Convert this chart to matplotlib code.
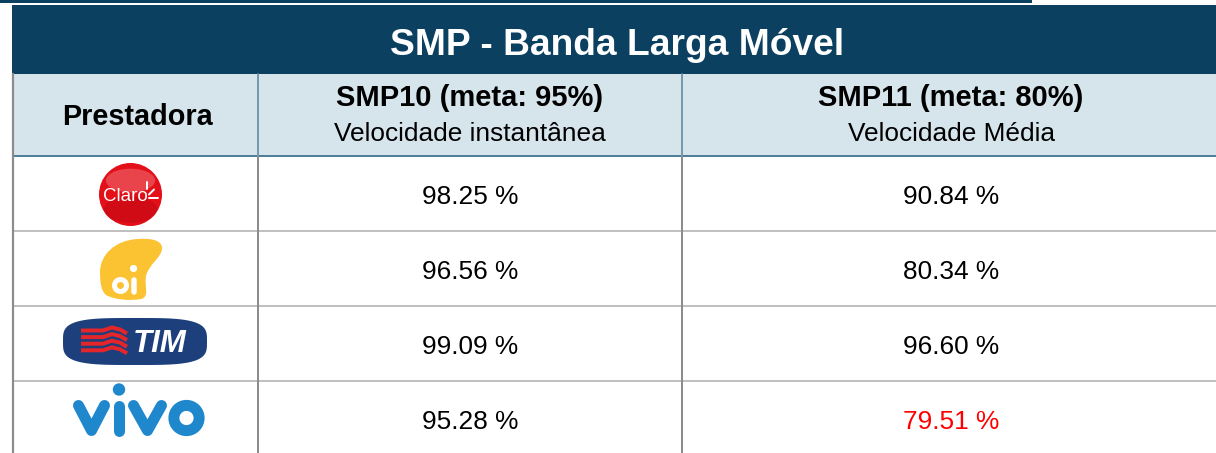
import matplotlib
matplotlib.use("Agg")
import matplotlib.pyplot as plt
from matplotlib.patches import Rectangle, Circle, Ellipse, PathPatch, Polygon
from matplotlib.path import Path
import numpy as np

# ---------------- data ----------------
title = "SMP - Banda Larga Móvel"
col_header = "Prestadora"
smp10_title = "SMP10 (meta: 95%)"
smp10_sub = "Velocidade instantânea"
smp11_title = "SMP11 (meta: 80%)"
smp11_sub = "Velocidade Média"
operators = ["Claro", "Oi", "TIM", "Vivo"]
smp10_values = [98.25, 96.56, 99.09, 95.28]
smp11_values = [90.84, 80.34, 96.60, 79.51]
smp10_goal = 95
smp11_goal = 80

# ---------------- style ----------------
W, H = 1216, 453
DARK = "#0b4060"
HEAD = "#d6e4ec"
HEADLINE = "#4f7f9a"
ROWLINE = "#c0c0c0"
VLINE = "#8c8c8c"
FONT = ["Liberation Sans", "DejaVu Sans"]

fig = plt.figure(figsize=(W / 100, H / 100), dpi=100)
ax = fig.add_axes([0, 0, 1, 1])
ax.set_xlim(0, W)
ax.set_ylim(H, 0)
ax.axis("off")

px = 0.72  # points per pixel
x_left, x_c1, x_c2, x_right = 12.5, 258, 682, W
y_title_top, y_title_bot = 5, 74
y_head_bot = 155.5
row_h = 75

# top thin line
ax.add_patch(Rectangle((0, 0), 1032, 2.6, color=DARK, lw=0))
# title band
ax.add_patch(Rectangle((x_left - 0.5, y_title_top), x_right - x_left + 1, y_title_bot - y_title_top,
                       color=DARK, lw=0))
ax.text(617, 55, title, ha="center", va="baseline", color="white",
        fontsize=26.7, fontweight="bold", family=FONT)

# header band
ax.add_patch(Rectangle((x_left, y_title_bot), x_right - x_left, y_head_bot - y_title_bot,
                       color=HEAD, lw=0))
ax.plot([x_left, x_right], [y_head_bot, y_head_bot], color=HEADLINE, lw=2.0 * px,
        solid_capstyle="butt")
for xv in (x_c1, x_c2):
    ax.plot([xv, xv], [y_title_bot, y_head_bot], color="#5f8aa2", lw=1.6 * px)

ax.text((x_left + x_c1) / 2 + 2, 125, col_header, ha="center", va="baseline",
        fontsize=20.8, fontweight="bold", family=FONT, color="black")
c2 = (x_c1 + x_c2) / 2
c3 = 951
ax.text(c2, 106, smp10_title, ha="center", va="baseline", fontsize=21,
        fontweight="bold", family=FONT, color="black")
ax.text(c2, 141, smp10_sub, ha="center", va="baseline", fontsize=18.9,
        family=FONT, color="black")
ax.text(c3, 106, smp11_title, ha="center", va="baseline", fontsize=21,
        fontweight="bold", family=FONT, color="black")
ax.text(c3, 141, smp11_sub, ha="center", va="baseline", fontsize=18.9,
        family=FONT, color="black")

# body grid
n = len(operators)
for i in range(1, n):
    y = y_head_bot + i * row_h
    ax.plot([x_left, x_right], [y, y], color=ROWLINE, lw=2.0 * px, solid_capstyle="butt")
for xv in (x_c1, x_c2):
    ax.plot([xv, xv], [y_head_bot, H], color=VLINE, lw=2.0 * px)
ax.plot([x_left, x_left], [y_title_bot, H], color=VLINE, lw=2.2 * px)

# values
for i in range(n):
    yb = y_head_bot + i * row_h + row_h / 2 + 11
    v10, v11 = smp10_values[i], smp11_values[i]
    ax.text(c2, yb, f"{v10:.2f} %", ha="center", va="baseline", fontsize=18.9,
            family=FONT, color="black" if v10 >= smp10_goal else "#ff0000")
    ax.text(c3, yb, f"{v11:.2f} %", ha="center", va="baseline", fontsize=18.9,
            family=FONT, color="black" if v11 >= smp11_goal else "#ff0000")

# ---------------- logos (decoration) ----------------
# Claro
cx, cy, r = 130.5, 194.5, 31.5
ax.add_patch(Circle((cx, cy), r, color="#e3101a", lw=0))
ax.add_patch(Ellipse((cx, cy + 15), 2 * r * 0.85, r * 0.85, color="#a8000a", alpha=0.3, lw=0))
ax.add_patch(Ellipse((cx, cy - 14), 2 * r * 0.78, r * 0.75, color="white", alpha=0.22, lw=0))
ax.text(cx - 5.5, 201, "Claro", ha="center", va="baseline", color="white",
        fontsize=13.5, family=FONT)
for (xa, ya, xb, yb2) in [(147, 181.5, 147, 188.5), (149, 194.5, 154, 189.5),
                          (149, 197.5, 158, 197.5)]:
    ax.plot([xa, xb], [ya, yb2], color="white", lw=1.4, solid_capstyle="round")

# Oi blob
verts = [(100, 272),
         (100, 255), (115, 240), (138, 239),
         (150, 238), (163, 240), (162, 249),
         (161, 258), (149, 264), (146, 276),
         (144, 286), (150, 297), (141, 299),
         (130, 301), (115, 300), (106, 295),
         (101, 291), (100, 282), (100, 272)]
codes = [Path.MOVETO] + [Path.CURVE4] * 18
ax.add_patch(PathPatch(Path(verts, codes), facecolor="#fbc232", edgecolor="none"))
ax.add_patch(Circle((120.5, 285.5), 6.0, facecolor="none", edgecolor="white", lw=5 * px))
ax.plot([133.5, 133.5], [279.5, 291.5], color="white", lw=5.5 * px, solid_capstyle="round")
ax.add_patch(Circle((133.5, 268.5), 3.6, color="white", lw=0))

# TIM
tcx, tcy, ta, tb = 135, 341.5, 72, 23.5
t = np.linspace(0, 2 * np.pi, 240)
nexp = 2 / 3.6
sx = tcx + ta * np.sign(np.cos(t)) * np.abs(np.cos(t)) ** nexp
sy = tcy + tb * np.sign(np.sin(t)) * np.abs(np.sin(t)) ** nexp
ax.add_patch(Polygon(np.column_stack([sx, sy]), closed=True, facecolor="#1d3f7c",
                     edgecolor="none"))
stripe_dx = [81, 103, 112, 120, 127]
stripe_dy = [0, 0, -3, -1, 3]
for k in range(4):
    base = 330.5 + k * 6.6
    ax.plot(stripe_dx, [base + d for d in stripe_dy], color="#e4262b", lw=4.0 * px,
            solid_capstyle="butt", solid_joinstyle="round")
ax.text(160, 352, "TIM", ha="center", va="baseline", color="white", fontsize=22.5,
        fontweight="bold", fontstyle="italic", family=FONT)

# Vivo (drawn as rounded strokes)
VIVO = "#1f88cc"
sw = 11 * px
ax.plot([78.5, 91.5, 104.5], [405.5, 430.5, 405.5], color=VIVO, lw=sw,
        solid_capstyle="round", solid_joinstyle="round")
ax.plot([119, 119], [405.5, 430.5], color=VIVO, lw=sw, solid_capstyle="round")
ax.add_patch(Circle((119, 389.5), 6.2, color=VIVO, lw=0))
ax.plot([133.5, 147.5, 161.5], [405.5, 430.5, 405.5], color=VIVO, lw=sw,
        solid_capstyle="round", solid_joinstyle="round")
ax.add_patch(Circle((186.5, 418), 12.6, facecolor="none", edgecolor=VIVO, lw=sw))

fig.savefig("out.png", dpi=100)
